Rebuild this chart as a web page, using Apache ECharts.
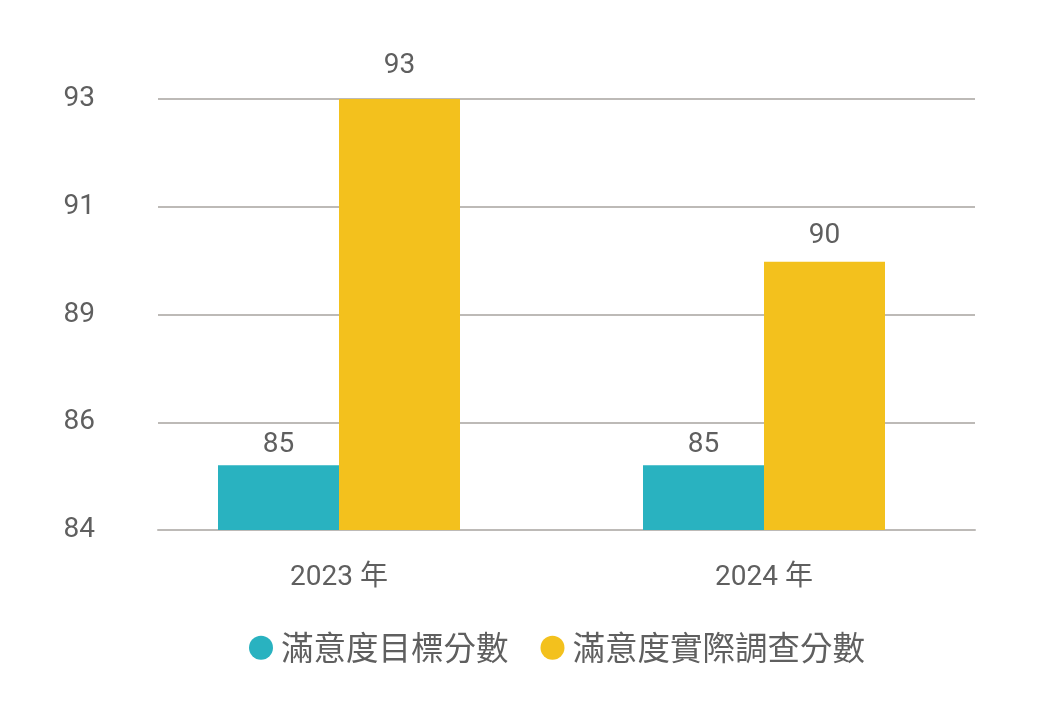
<!DOCTYPE html>
<html><head><meta charset="utf-8">
<script src="https://cdn.jsdelivr.net/npm/echarts@6/dist/echarts.min.js"></script>
<style>html,body{margin:0;padding:0;background:#fff}#c{width:1052px;height:716px}</style>
</head><body><div id="c"></div>
<script>
const categories = ['2023 年', '2024 年'];
const seriesNames = ['滿意度目標分數', '滿意度實際調查分數'];
const targetScores = [85.35, 85.35];
const actualScores = [93, 89.6];
const yMin = 84, yMax = 93, yInterval = 2.25;

const textColor = '#5f5f5f';
const numFont = 'Roboto, "Noto Sans CJK TC", sans-serif';
const cjkFont = '"Noto Sans CJK TC", sans-serif';
const targetLabelGap = [6, 6];
const actualLabelGap = [19, 12];
const withGap = (vals, gaps) => vals.map((v, i) => ({ value: v, label: { distance: gaps[i] } }));
const chart = echarts.init(document.getElementById('c'));
chart.setOption({
  animation: false,
  legend: {
    bottom: 47, left: 244, icon: 'circle', itemWidth: 30, itemHeight: 24, itemGap: 32,
    textStyle: { fontSize: 32.5, color: textColor, fontFamily: cjkFont },
    data: seriesNames
  },
  grid: [
    { left: 158, right: 77, top: 99, bottom: 186 },
    { left: 126.5, right: 75.5, top: 99, bottom: 186 }
  ],
  xAxis: [
    { type: 'category', gridIndex: 0, data: categories, axisLabel: { show: false }, axisTick: { show: false },
      axisLine: { lineStyle: { color: '#bdbab7', width: 2 } } },
    { type: 'category', gridIndex: 1, data: categories, axisTick: { show: false }, axisLine: { show: false },
      axisLabel: { color: textColor, fontSize: 28, margin: 34, fontFamily: numFont } }
  ],
  yAxis: [
    { type: 'value', gridIndex: 0, min: yMin, max: yMax, interval: yInterval,
      axisLabel: { color: textColor, fontSize: 28, margin: 63, fontFamily: numFont, formatter: v => String(Math.round(v)) },
      splitLine: { lineStyle: { color: '#bdbab7', width: 2 } }, axisLine: { show: false }, axisTick: { show: false } },
    { type: 'value', gridIndex: 1, min: yMin, max: yMax, interval: yInterval, show: false }
  ],
  series: [
    { name: seriesNames[0], type: 'bar', xAxisIndex: 1, yAxisIndex: 1, data: withGap(targetScores, targetLabelGap), barWidth: 121, barGap: '0%',
      itemStyle: { color: '#29b2c0' },
      label: { show: true, position: 'top', color: textColor, fontSize: 28, fontFamily: numFont, formatter: p => String(Math.round(p.value)) } },
    { name: seriesNames[1], type: 'bar', xAxisIndex: 1, yAxisIndex: 1, data: withGap(actualScores, actualLabelGap), barWidth: 121, barGap: '0%',
      itemStyle: { color: '#f3c11d' },
      label: { show: true, position: 'top', color: textColor, fontSize: 28, fontFamily: numFont, formatter: p => String(Math.round(p.value)) } }
  ]
});
</script></body></html>
